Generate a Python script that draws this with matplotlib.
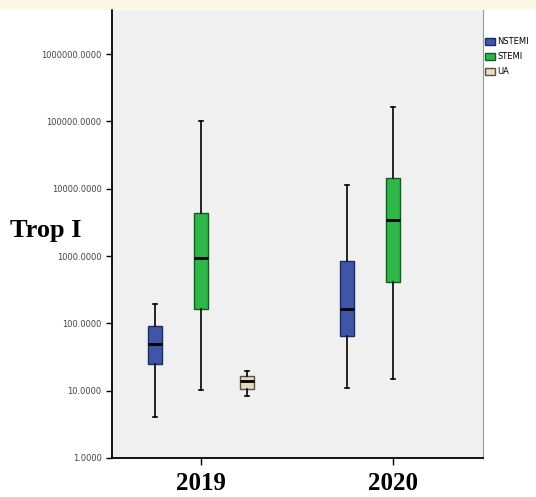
import matplotlib.pyplot as plt
from matplotlib.patches import Patch, Rectangle

# Trop I box plot statistics
years = ['2019', '2020']
groups = ['NSTEMI', 'STEMI', 'UA']
colors = ['#3f56a8', '#2db84a', '#e4dcbc']
edges = ['#1c2a66', '#145c22', '#55524a']

# per group: [whislo, q1, med, q3, whishi] for each year (None = no data)
nstemi = [[4.1, 25, 49, 92, 195], [11.1, 65, 166, 845, 11400]]
stemi = [[10.2, 162, 940, 4400, 100000], [14.9, 417, 3450, 14400, 165000]]
ua = [[8.3, 10.6, 13.9, 16.5, 19.6], None]

tick_vals = [1, 10, 100, 1000, 10000, 100000, 1000000]
tick_labels = ['%.4f' % v for v in tick_vals]

fig = plt.figure(figsize=(5.36, 4.97), dpi=100)
fig.patches.append(Rectangle((0, 0.984), 1, 0.016, transform=fig.transFigure,
                             color='#fbf8e4', zorder=0))
ax = fig.add_axes([0.209, 0.0785, 0.692, 0.9015])
ax.set_facecolor('#f0f0f0')

offsets = [-0.24, 0.0, 0.24]
for gi, data in enumerate([nstemi, stemi, ua]):
    for yi, s in enumerate(data):
        if s is None:
            continue
        stats = [dict(whislo=s[0], q1=s[1], med=s[2], q3=s[3], whishi=s[4], fliers=[])]
        ax.bxp(stats, positions=[yi + offsets[gi]], widths=0.073, patch_artist=True,
               boxprops=dict(facecolor=colors[gi], edgecolor=edges[gi], linewidth=1),
               medianprops=dict(color='black', linewidth=2),
               whiskerprops=dict(color='black', linewidth=1.2),
               capprops=dict(color='black', linewidth=1.2), capwidths=0.022,
               manage_ticks=False)

ax.set_yscale('log')
ax.set_ylim(1, 10 ** 6.657)
ax.set_xlim(-0.464, 1.469)
ax.set_yticks(tick_vals)
ax.set_yticklabels(tick_labels, fontsize=6, color='#444444')
ax.minorticks_off()
ax.set_xticks([0, 1])
ax.set_xticklabels(years, fontsize=18, fontweight='bold', family='Liberation Serif')
ax.tick_params(axis='y', length=4, width=1)
ax.tick_params(axis='x', length=5, width=1, pad=5)

ax.spines['top'].set_visible(False)
ax.spines['right'].set_color('#999999')
ax.spines['left'].set_linewidth(1.3)
ax.spines['bottom'].set_linewidth(1.3)

fig.text(0.019, 0.537, 'Trop I', fontsize=19, fontweight='bold',
         family='Liberation Serif', va='center', ha='left')

handles = [Patch(facecolor=c, edgecolor=e) for c, e in zip(colors, edges)]
fig.legend(handles, groups, loc='upper left', bbox_to_anchor=(0.894, 0.937),
           frameon=False, fontsize=6, handlelength=1.2, handleheight=1.0,
           handletextpad=0.3, labelspacing=0.72, borderpad=0.2)

fig.savefig('out.png', dpi=100)
